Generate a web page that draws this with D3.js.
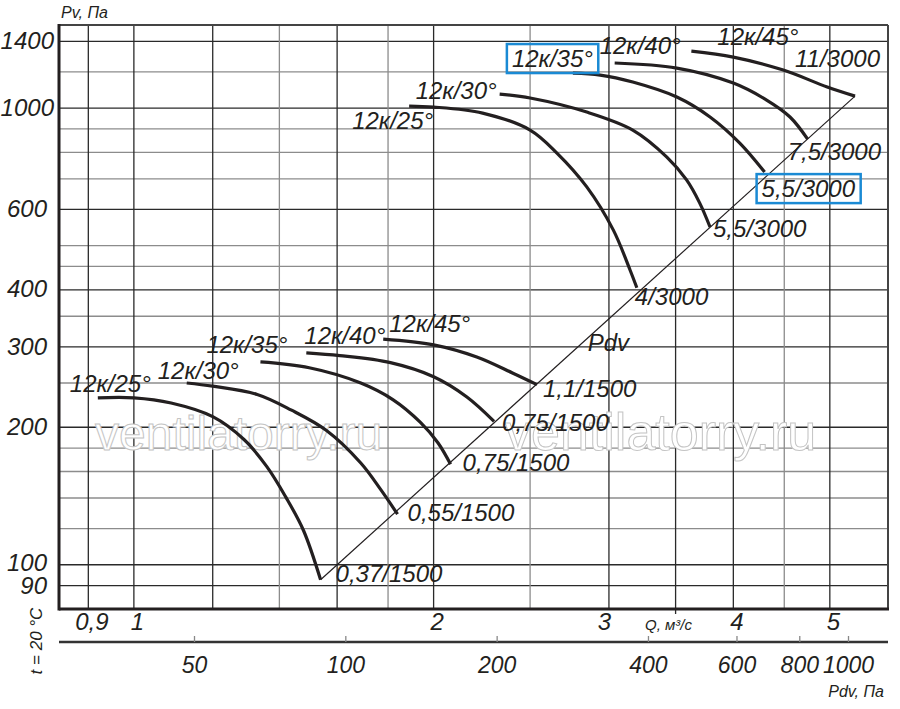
<!DOCTYPE html>
<html>
<head>
<meta charset="utf-8">
<script src="https://cdn.jsdelivr.net/npm/d3@7/dist/d3.min.js"></script>
<style>
  body { margin: 0; background: #fff; }
  svg text { font-family: "Liberation Sans", Arial, sans-serif; font-style: italic; fill: #231f20; }
</style>
</head>
<body>
<svg id="view"></svg>
<script>

// grid + tick values
const qGrid = [0.9, 1, 1.2, 1.4, 1.6, 1.8, 2, 2.5, 3, 3.5, 4, 4.5, 5];
const qDark = [0.9, 1, 1.2, 1.6, 2, 3, 3.5, 4, 5];
const qTickLabels = [0.9, 1, 2, 3, 4, 5];
const pvGrid = [90, 100, 120, 140, 160, 180, 200, 250, 300, 350, 400, 450, 500, 600, 700, 800, 900, 1000, 1200, 1400];
const pvTickLabels = [90, 100, 200, 300, 400, 600, 1000, 1400];
const pdvTicks = [50, 100, 200, 400, 600, 800, 1000];

const bladeNames = ['12к/25°', '12к/30°', '12к/35°', '12к/40°', '12к/45°'];
const motors3000 = ['4/3000', '5,5/3000', '5,5/3000', '7,5/3000', '11/3000'];
const motors1500 = ['0,37/1500', '0,55/1500', '0,75/1500', '0,75/1500', '1,1/1500'];

// [Q m3/s, Pv Pa], n = 3000
const c25_3000 = [[1.89, 1010], [2.00, 1005], [2.24, 975], [2.50, 895], [2.66, 797], [2.85, 672], [3.03, 541], [3.15, 442], [3.20, 404]];
const c30_3000 = [[2.33, 1073], [2.50, 1052], [2.85, 980], [3.17, 895], [3.43, 781], [3.59, 696], [3.70, 620], [3.79, 549]];
const c35_3000 = [[2.76, 1193], [2.94, 1181], [3.17, 1140], [3.51, 1057], [3.79, 956], [4.06, 838], [4.30, 724]];
const c40_3000 = [[3.04, 1255], [3.51, 1223], [4.00, 1134], [4.32, 1041], [4.56, 956], [4.75, 855]];
const c45_3000 = [[3.63, 1333], [4.00, 1293], [4.49, 1211], [4.97, 1112], [5.30, 1062]];

// n = 1500
const c25_1500 = [[0.92, 232], [1.00, 232], [1.09, 226], [1.20, 211], [1.29, 188], [1.36, 164], [1.42, 141], [1.48, 119], [1.54, 92.7]];
const c30_1500 = [[1.13, 250], [1.20, 246], [1.33, 236], [1.44, 218], [1.56, 197], [1.69, 167], [1.77, 146], [1.84, 129]];
const c35_1500 = [[1.34, 278], [1.50, 270], [1.69, 250], [1.82, 230], [1.94, 205], [2.02, 185], [2.08, 166]];
const c40_1500 = [[1.49, 291], [1.61, 287], [1.81, 277], [2.00, 258], [2.16, 233], [2.30, 206]];
const c45_1500 = [[1.78, 312], [2.00, 303], [2.21, 285], [2.40, 263], [2.54, 248]];

// dynamic pressure line
const pdvLine = [[1.54, 92.7], [5.30, 1062]];

// label placement (px offsets from curve start / end)
const startOff3000 = [[24, 23, 'end'], [-3, 5, 'end'], [20, -6, 'end'], [-15, -9, 'start'], [26, -6, 'start']];
const endOff3000 = [[-2, 17], [3, 10], [-3, 25], [-20, 21], [-60, -29]];
const startOff1500 = [[-28, -6, 'start'], [-29, -4, 'start'], [-54, -9, 'start'], [-2, -9, 'start'], [6, -7, 'start']];
const endOff1500 = [[15, 2], [10, 7], [12, 7], [8, 10], [6, 12]];


const width = 900, height = 709;
const margin = {top: 25, right: 12, bottom: 100, left: 59};
const plotBottom = height - margin.bottom;   // 609
const plotRight = width - margin.right;      // 888

const svg = d3.select('#view')
    .attr('width', width)
    .attr('height', height);

// scales
const x = d3.scaleLog().domain([0.841, 5.72]).range([margin.left, plotRight]);
const y = d3.scaleLog().domain([80, 1520]).range([plotBottom, margin.top]);
const xPdv = d3.scaleLog().domain([50, 1000]).range([194, 848]);

const fmt = d => String(d).replace('.', ',');

// horizontal grid
svg.append('g')
    .selectAll('line')
    .data(pvGrid)
    .join('line')
    .attr('x1', margin.left).attr('x2', plotRight)
    .attr('y1', d => y(d)).attr('y2', d => y(d))
    .attr('stroke', d => pvTickLabels.includes(d) ? '#2a2a2a' : '#8c8c8c')
    .attr('stroke-width', 1.3);

// vertical grid
svg.append('g')
    .selectAll('line')
    .data(qGrid)
    .join('line')
    .attr('x1', d => x(d)).attr('x2', d => x(d))
    .attr('y1', margin.top).attr('y2', d => d === 3.5 ? plotBottom + 5 : plotBottom)
    .attr('stroke', d => qDark.includes(d) ? '#2a2a2a' : '#8c8c8c')
    .attr('stroke-width', 1.3);

// watermark
const wm = svg.append('g');
[[95, 450, 48], [505, 450, 52]].forEach(([wx, wy, fs]) => {
    wm.append('text')
        .attr('x', wx).attr('y', wy)
        .style('font-style', 'normal')
        .style('font-size', fs + 'px')
        .style('fill', '#fff')
        .style('stroke', '#c4c4c4')
        .style('stroke-width', 1)
        .text('ventilatorry.ru');
});

// frame
svg.append('line').attr('x1', margin.left).attr('x2', plotRight).attr('y1', margin.top).attr('y2', margin.top)
    .attr('stroke', '#444').attr('stroke-width', 2);
svg.append('line').attr('x1', plotRight).attr('x2', plotRight).attr('y1', margin.top).attr('y2', plotBottom)
    .attr('stroke', '#444').attr('stroke-width', 2);
svg.append('line').attr('x1', margin.left).attr('x2', margin.left).attr('y1', margin.top - 1).attr('y2', plotBottom + 1.5)
    .attr('stroke', '#231f20').attr('stroke-width', 3);
svg.append('line').attr('x1', margin.left).attr('x2', plotRight + 1).attr('y1', plotBottom).attr('y2', plotBottom)
    .attr('stroke', '#231f20').attr('stroke-width', 3);

// y axis labels
const yAxis = svg.append('g')
    .attr('transform', `translate(${margin.left},0)`)
    .call(d3.axisLeft(y).tickValues(pvTickLabels).tickFormat(d3.format('d')).tickSize(0).tickPadding(12));
yAxis.select('.domain').remove();
yAxis.selectAll('text')
    .attr('dx', d => d >= 1000 ? 7 : 0)
    .attr('dy', d => d === 90 ? '0.33em' : d === 100 ? '0.24em' : '0.3em')
    .style('font-size', '24px')
    .style('font-family', '"Liberation Sans", Arial, sans-serif');

// Q axis labels
const xAxis = svg.append('g')
    .attr('transform', `translate(0,${plotBottom})`)
    .call(d3.axisBottom(x).tickValues(qTickLabels).tickFormat(fmt).tickSize(0).tickPadding(4));
xAxis.select('.domain').remove();
xAxis.selectAll('text')
    .attr('dx', d => d === 3 ? -5 : 3)
    .style('font-size', '24px')
    .style('font-family', '"Liberation Sans", Arial, sans-serif');

// Pdv axis
const pdvY = 642;
svg.append('line').attr('x1', margin.left).attr('x2', plotRight).attr('y1', pdvY).attr('y2', pdvY)
    .attr('stroke', '#333').attr('stroke-width', 2.5);
const pdvAxis = svg.append('g')
    .attr('transform', `translate(0,${pdvY})`)
    .call(d3.axisBottom(xPdv).tickValues(pdvTicks).tickFormat(d3.format('d')).tickSizeInner(-6).tickSizeOuter(0).tickPadding(15));
pdvAxis.select('.domain').remove();
pdvAxis.selectAll('line').attr('stroke', '#888').attr('stroke-width', 1.3);
pdvAxis.selectAll('text')
    .style('font-size', '23px')
    .style('font-family', '"Liberation Sans", Arial, sans-serif');

// small titles
svg.append('text').attr('x', 61).attr('y', 18).style('font-size', '16px').text('Pv, Па');
svg.append('text').attr('x', 645).attr('y', 630).style('font-size', '15px').text('Q, м³/с');
svg.append('text').attr('x', 884).attr('y', 697).attr('text-anchor', 'end').style('font-size', '16px').text('Pdv, Па');
svg.append('text')
    .attr('transform', 'translate(42,641) rotate(-90)')
    .attr('text-anchor', 'middle')
    .style('font-size', '17px')
    .text('t = 20 °C');

// Pdv line
const straight = d3.line().x(d => x(d[0])).y(d => y(d[1]));
svg.append('path')
    .datum(pdvLine)
    .attr('d', straight)
    .attr('fill', 'none')
    .attr('stroke', '#231f20')
    .attr('stroke-width', 1.2);

const pdvLabelQ = 2.85;
svg.append('text')
    .attr('x', x(pdvLabelQ) + 1)
    .attr('y', y(pdvLine[0][1] * Math.pow(pdvLabelQ / pdvLine[0][0], 2)) + 15)
    .style('font-size', '24px')
    .text('Pdv');

// curves
const valueline = d3.line()
    .x(d => x(d[0]))
    .y(d => y(d[1]))
    .curve(d3.curveCatmullRom.alpha(0.5));

const boxed = [];

const plotFamily = function(curves, motors, startOff, endOff, boxIndex){
    curves.forEach((c, i) => {
        svg.append('path')
            .datum(c)
            .attr('d', valueline)
            .attr('fill', 'none')
            .attr('stroke', '#231f20')
            .attr('stroke-width', 3.2);

        const s = c[0], e = c[c.length - 1];
        const t1 = svg.append('text')
            .attr('x', x(s[0]) + startOff[i][0])
            .attr('y', y(s[1]) + startOff[i][1])
            .attr('text-anchor', startOff[i][2])
            .style('font-size', '24px')
            .text(bladeNames[i]);
        const t2 = svg.append('text')
            .attr('x', x(e[0]) + endOff[i][0])
            .attr('y', y(e[1]) + endOff[i][1])
            .style('font-size', '24px')
            .text(motors[i]);
        if (i === boxIndex) boxed.push(t1, t2);
    });
};

plotFamily([c25_3000, c30_3000, c35_3000, c40_3000, c45_3000], motors3000, startOff3000, endOff3000, 2);
plotFamily([c25_1500, c30_1500, c35_1500, c40_1500, c45_1500], motors1500, startOff1500, endOff1500, -1);

// blue highlight boxes
boxed.forEach(t => {
    const b = t.node().getBBox();
    svg.append('rect')
        .attr('x', b.x - 5).attr('y', b.y - 1)
        .attr('width', b.width + 10).attr('height', b.height + 2)
        .attr('fill', 'none')
        .attr('stroke', '#1a8ad4')
        .attr('stroke-width', 2.5);
});

</script>
</body>
</html>
